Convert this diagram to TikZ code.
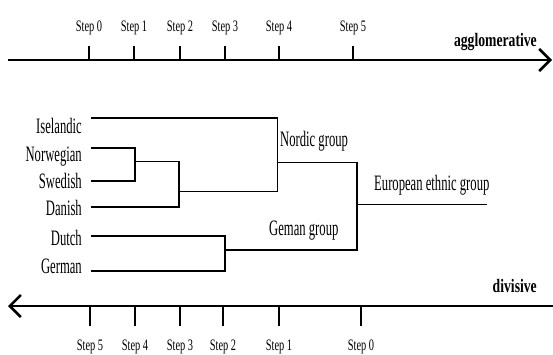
\documentclass[tikz,border=0pt]{standalone}
\usepackage{fontspec}
\usetikzlibrary{arrows.meta}
\newfontfamily\lab[FakeStretch=0.575]{Liberation Serif}
\newfontfamily\steplab[FakeStretch=0.65]{Liberation Serif}
\newfontfamily\boldlab[FakeStretch=0.72]{Liberation Serif}
\tikzset{
  axis/.style={line width=2.6pt, -{Straight Barb[length=11pt,width=22pt,line width=2.6pt]}},
  tick/.style={line width=1.4pt},
  tree/.style={line width=1.3pt},
  leaf/.style={anchor=base east, inner sep=0pt, font=\lab\fontsize{22}{26}\selectfont},
  grp/.style={anchor=base west, inner sep=0pt, font=\lab\fontsize{22}{26}\selectfont},
  steptext/.style={anchor=base, inner sep=0pt, font=\steplab\fontsize{16}{18}\selectfont},
  dirtext/.style={anchor=base east, inner sep=0pt, font=\boldlab\bfseries\fontsize{19}{22}\selectfont},
}
\begin{document}
\begin{tikzpicture}[x=1pt,y=-1pt]
\useasboundingbox (0,0) rectangle (553,354);
% top axis
\coordinate (ta0) at (8,60);
\coordinate (ta1) at (552,60);
\draw[axis] (ta0) -- (ta1);
\foreach \n/\x in {0/89,1/134,2/180,3/225,4/279,5/353}{
  \coordinate (tt\n) at (\x,60);
  \coordinate (tb\n) at (\x,46);
  \draw[tick] (tt\n) -- (tb\n);
  \node[steptext] (ts\n) at (\x,31.5) {Step \n};
}
\node[dirtext] (agg) at (537,46) {agglomerative};
% bottom axis
\coordinate (ba0) at (553,306);
\coordinate (ba1) at (8,306);
\draw[axis] (ba0) -- (ba1);
\foreach \n/\x in {5/90,4/135,3/180,2/223,1/279,0/361}{
  \coordinate (bt\n) at (\x,306);
  \coordinate (bb\n) at (\x,326);
  \draw[tick] (bt\n) -- (bb\n);
  \node[steptext] (bs\n) at (\x,350) {Step \n};
}
\node[dirtext] (div) at (537,292) {divisive};
% leaves
\node[leaf] (isl) at (82,133.3) {Iselandic};
\node[leaf] (nor) at (82,161.7) {Norwegian};
\node[leaf] (swe) at (82,188.3) {Swedish};
\node[leaf] (dan) at (82,215) {Danish};
\node[leaf] (dut) at (82,245) {Dutch};
\node[leaf] (ger) at (82,273) {German};
% leaf line starts
\coordinate (lisl) at (91,118);
\coordinate (lnor) at (91,148);
\coordinate (lswe) at (91,181);
\coordinate (ldan) at (91,207);
\coordinate (ldut) at (91,236);
\coordinate (lger) at (91,271);
% junctions
\coordinate (jns) at (135,161.7);
\coordinate (jnsd) at (179,191.7);
\coordinate (jdg) at (225,250);
\coordinate (jnord) at (277.7,162.3);
\coordinate (jeur) at (357,204.3);
\coordinate (eend) at (487,204.3);
\draw[tree] (lnor) -| (135,181) -- (lswe);
\draw[tree] (jns) -| (179,207) -- (ldan);
\draw[tree] (lisl) -| (277.7,191.7) -- (jnsd);
\draw[tree] (ldut) -| (225,271) -- (lger);
\draw[tree] (jdg) -| (357,162.3) -- (jnord);
\draw[tree] (jeur) -- (eend);
% group labels
\node[grp] (nordic) at (280,146.7) {Nordic group};
\node[grp] (geman) at (269,235) {Geman group};
\node[grp] (euro) at (374,190.7) {European ethnic group};
\end{tikzpicture}
\end{document}
